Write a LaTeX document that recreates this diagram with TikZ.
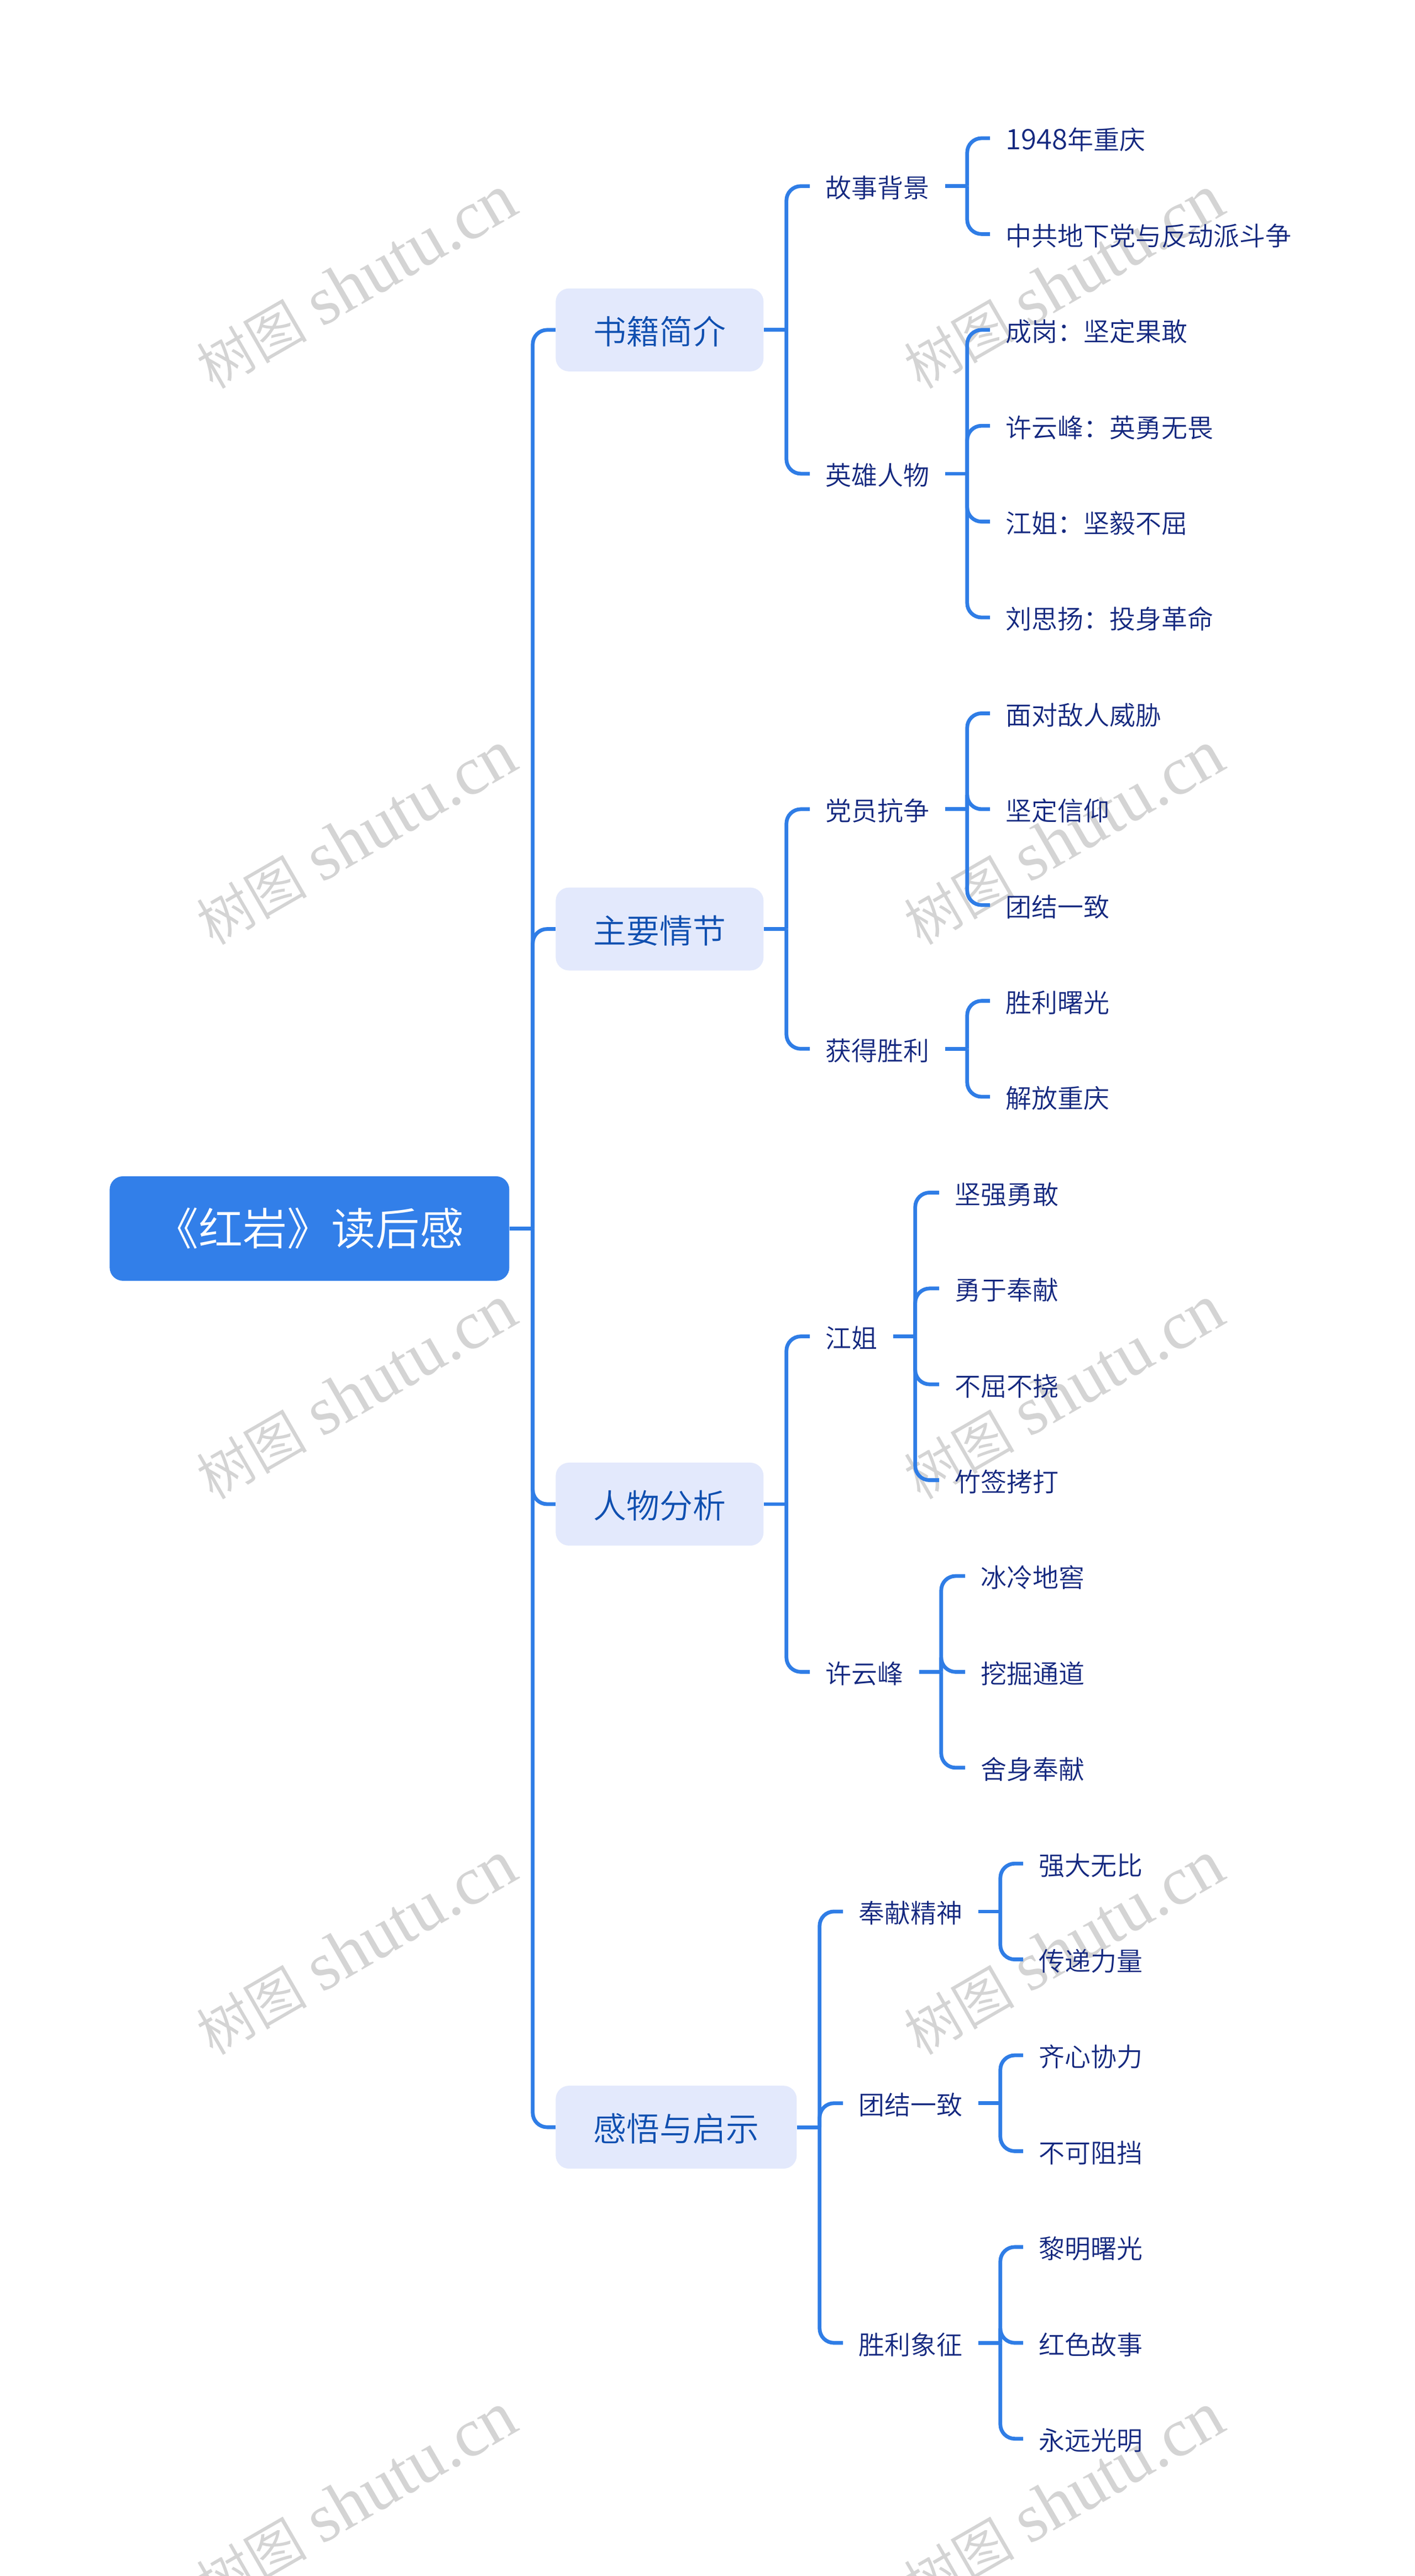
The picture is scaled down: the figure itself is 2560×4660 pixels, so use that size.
\documentclass[tikz,border=0pt]{standalone}
\usepackage{fontspec}
\setmainfont{Noto Sans CJK SC DemiLight}
\newfontfamily\wmlat{Liberation Serif}
\usetikzlibrary{calc}
\definecolor{lineblue}{HTML}{2F7DE6}
\definecolor{rootblue}{HTML}{327FE9}
\definecolor{boxfill}{HTML}{E3E9FC}
\definecolor{boxtext}{HTML}{0F4FB0}
\definecolor{leaftext}{HTML}{14287F}
\definecolor{wmgray}{HTML}{D4D4D4}
\tikzset{
  rootnode/.style={anchor=west,fill=rootblue,text=white,rounded corners=12pt,minimum width=361.5pt,minimum height=94.5pt,inner sep=0pt,font=\fontsize{40pt}{48pt}\selectfont},
  topicnode/.style={anchor=west,fill=boxfill,text=boxtext,rounded corners=12pt,inner xsep=34pt,inner ysep=0pt,minimum height=75pt,text height=29.4pt,text depth=3.6pt,font=\fontsize{30pt}{36pt}\selectfont},
  textnode/.style={anchor=west,text=leaftext,inner xsep=14pt,inner ysep=0pt,text height=23.7pt,text depth=2.8pt,font=\fontsize{23.5pt}{28pt}\selectfont},
  conn/.style={draw=lineblue,line width=3.4pt},
  branch/.style={conn,rounded corners=13pt},
  watermark/.style={text=wmgray,rotate=30,inner sep=0pt,font=\fontsize{62pt}{68pt}\selectfont}
}
\newcommand{\wmtext}{{\fontsize{50pt}{68pt}\selectfont 树图} {\wmlat shutu.cn}}
\begin{document}
\begin{tikzpicture}[x=0.5pt,y=-0.5pt]
\useasboundingbox (0,0) rectangle (2560,4660);
\fill[white] (0,0) rectangle (2560,4660);
% watermarks
\node[watermark] (w1) at (645,511) {\wmtext};
\node[watermark] (w2) at (1925,511) {\wmtext};
\node[watermark] (w3) at (645,1516) {\wmtext};
\node[watermark] (w4) at (1925,1516) {\wmtext};
\node[watermark] (w5) at (645,2519) {\wmtext};
\node[watermark] (w6) at (1925,2519) {\wmtext};
\node[watermark] (w7) at (645,3524) {\wmtext};
\node[watermark] (w8) at (1925,3524) {\wmtext};
\node[watermark] (w9) at (645,4522) {\wmtext};
\node[watermark] (w10) at (1925,4522) {\wmtext};
% root and topics
\node[rootnode] (root) at (198,2222.4) {《红岩》读后感};
\node[topicnode] (t1) at (1005,596.8) {书籍简介};
\node[topicnode] (t2) at (1005,1680.55) {主要情节};
\node[topicnode] (t3) at (1005,2720.95) {人物分析};
\node[topicnode] (t4) at (1005,3848.05) {感悟与启示};
% second level
\node[textnode] (a1) at (1465,336.7) {故事背景};
\node[textnode] (a2) at (1465,856.9) {英雄人物};
\node[textnode] (b1) at (1465,1463.8) {党员抗争};
\node[textnode] (b2) at (1465,1897.3) {获得胜利};
\node[textnode] (c1) at (1465,2417.5) {江姐};
\node[textnode] (c2) at (1465,3024.4) {许云峰};
\node[textnode] (d1) at (1525,3457.9) {奉献精神};
\node[textnode] (d2) at (1525,3804.7) {团结一致};
\node[textnode] (d3) at (1525,4238.2) {胜利象征};
% leaves
\node[textnode] (a11) at (1791,250) {{\fontsize{25.5pt}{28pt}\selectfont 1948}年重庆};
\node[textnode] (a12) at (1791,423.4) {中共地下党与反动派斗争};
\node[textnode] (a21) at (1791,596.8) {成岗：坚定果敢};
\node[textnode] (a22) at (1791,770.2) {许云峰：英勇无畏};
\node[textnode] (a23) at (1791,943.6) {江姐：坚毅不屈};
\node[textnode] (a24) at (1791,1117) {刘思扬：投身革命};
\node[textnode] (b11) at (1791,1290.4) {面对敌人威胁};
\node[textnode] (b12) at (1791,1463.8) {坚定信仰};
\node[textnode] (b13) at (1791,1637.2) {团结一致};
\node[textnode] (b21) at (1791,1810.6) {胜利曙光};
\node[textnode] (b22) at (1791,1984) {解放重庆};
\node[textnode] (c11) at (1699,2157.4) {坚强勇敢};
\node[textnode] (c12) at (1699,2330.8) {勇于奉献};
\node[textnode] (c13) at (1699,2504.2) {不屈不挠};
\node[textnode] (c14) at (1699,2677.6) {竹签拷打};
\node[textnode] (c21) at (1746,2851) {冰冷地窖};
\node[textnode] (c22) at (1746,3024.4) {挖掘通道};
\node[textnode] (c23) at (1746,3197.8) {舍身奉献};
\node[textnode] (d11) at (1851,3371.2) {强大无比};
\node[textnode] (d12) at (1851,3544.6) {传递力量};
\node[textnode] (d21) at (1851,3718) {齐心协力};
\node[textnode] (d22) at (1851,3891.4) {不可阻挡};
\node[textnode] (d31) at (1851,4064.8) {黎明曙光};
\node[textnode] (d32) at (1851,4238.2) {红色故事};
\node[textnode] (d33) at (1851,4411.6) {永远光明};
% junctions
\coordinate (j0) at ($(root.east)+(42,0)$);
\coordinate (jt1) at ($(t1.east)+(41,0)$);
\coordinate (jt2) at ($(t2.east)+(41,0)$);
\coordinate (jt3) at ($(t3.east)+(41,0)$);
\coordinate (jt4) at ($(t4.east)+(41,0)$);
\coordinate (ja1) at ($(a1.east)+(40,0)$);
\coordinate (ja2) at ($(a2.east)+(40,0)$);
\coordinate (jb1) at ($(b1.east)+(40,0)$);
\coordinate (jb2) at ($(b2.east)+(40,0)$);
\coordinate (jc1) at ($(c1.east)+(40,0)$);
\coordinate (jc2) at ($(c2.east)+(40,0)$);
\coordinate (jd1) at ($(d1.east)+(40,0)$);
\coordinate (jd2) at ($(d2.east)+(40,0)$);
\coordinate (jd3) at ($(d3.east)+(40,0)$);
% stems
\foreach \p/\j in {root/j0,t1/jt1,t2/jt2,t3/jt3,t4/jt4,a1/ja1,a2/ja2,b1/jb1,b2/jb2,c1/jc1,c2/jc2,d1/jd1,d2/jd2,d3/jd3}
  \draw[conn] (\p.east) -- (\j);
% branches
\foreach \j/\c in {j0/t1,j0/t2,j0/t3,j0/t4,
  jt1/a1,jt1/a2,jt2/b1,jt2/b2,jt3/c1,jt3/c2,jt4/d1,jt4/d2,jt4/d3,
  ja1/a11,ja1/a12,ja2/a21,ja2/a22,ja2/a23,ja2/a24,
  jb1/b11,jb1/b12,jb1/b13,jb2/b21,jb2/b22,
  jc1/c11,jc1/c12,jc1/c13,jc1/c14,jc2/c21,jc2/c22,jc2/c23,
  jd1/d11,jd1/d12,jd2/d21,jd2/d22,jd3/d31,jd3/d32,jd3/d33}
  \draw[branch] (\j) |- (\c.west);
\end{tikzpicture}
\end{document}
